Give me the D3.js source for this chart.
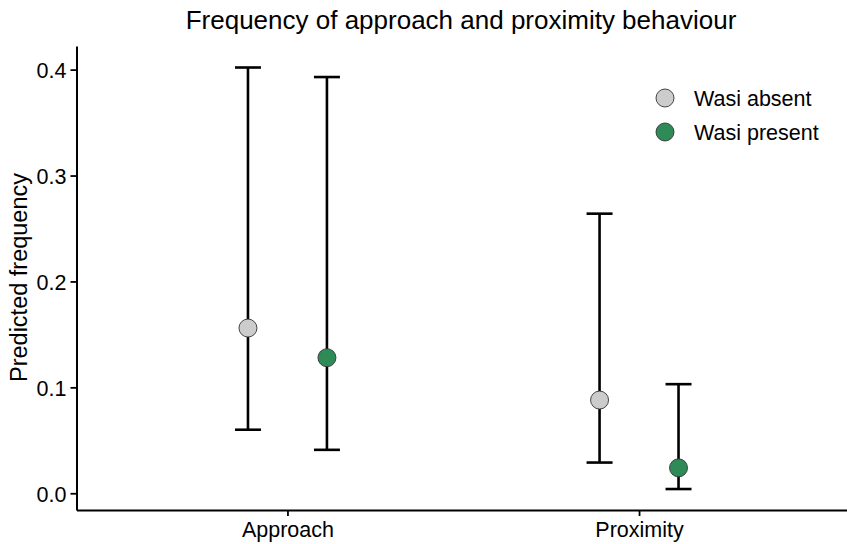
<!DOCTYPE html>
<html>
<head>
<meta charset="utf-8">
<script src="https://cdn.jsdelivr.net/npm/d3@7"></script>
<style>
  body { margin: 0; background: #fff; }
  text { font-family: "Liberation Sans", Arial, sans-serif; fill: #000; }
</style>
</head>
<body>
<svg id="chart" width="847" height="544"></svg>
<script>
"use strict";

// data
const behaviours = ['Approach', 'Proximity'];
const groups = ['Wasi absent', 'Wasi present'];
const groupColors = ['#cccccc', '#2e8b57'];
const estimate = [[0.156, 0.128], [0.088, 0.024]];
const lowerCI = [[0.060, 0.041], [0.029, 0.004]];
const upperCI = [[0.402, 0.393], [0.264, 0.103]];
const yTicks = [0.0, 0.1, 0.2, 0.3, 0.4];

const svg = d3.select('#chart');

// discrete positions 1..n, panel spans 0.4..n+0.6 like ggplot
const x = d3.scaleLinear().domain([0.4, 2.6]).range([76.5, 850]);
const y = d3.scaleLinear().domain([-0.0158, 0.4224]).range([510, 45.9]);
const dodge = 0.1123;

const rows = [];
behaviours.forEach(function(b, i){
    groups.forEach(function(g, j){
        rows.push({
            behaviour: b, group: j,
            pos: i + 1 + (j === 0 ? -dodge : dodge),
            est: estimate[i][j], lo: lowerCI[i][j], hi: upperCI[i][j]
        });
    });
});

// title
svg.append('text')
   .attr('x', 461).attr('y', 29)
   .attr('text-anchor', 'middle')
   .style('font-size', '26px')
   .text('Frequency of approach and proximity behaviour');

// axes
const yAxis = svg.append('g')
   .attr('transform', 'translate(' + x(0.4) + ',0)')
   .call(d3.axisLeft(y).tickValues(yTicks).tickFormat(d3.format('.1f')).tickSize(6).tickSizeOuter(0));
yAxis.select('.domain').attr('stroke', '#000').attr('stroke-width', 2);
yAxis.selectAll('.tick line').attr('stroke', '#000').attr('stroke-width', 1.8);
yAxis.selectAll('.tick text')
     .attr('x', -10).attr('dy', '0.36em')
     .style('font-size', '21.5px');

const xAxis = svg.append('g')
   .attr('transform', 'translate(0,' + y(-0.0158) + ')')
   .call(d3.axisBottom(x).tickValues([1, 2]).tickFormat(function(d){ return behaviours[d - 1]; }).tickSize(6).tickSizeOuter(0));
xAxis.select('.domain').attr('stroke', '#000').attr('stroke-width', 2);
xAxis.selectAll('.tick line').attr('stroke', '#000').attr('stroke-width', 1.8);
xAxis.selectAll('.tick text')
     .attr('y', 12).attr('dy', '0.71em')
     .style('font-size', '21.5px');

svg.append('text')
   .attr('transform', 'translate(27,' + 277.5 + ') rotate(-90)')
   .attr('text-anchor', 'middle')
   .style('font-size', '23.5px')
   .text('Predicted frequency');

// error bars
const bars = svg.append('g').selectAll('g')
   .data(rows).enter().append('g')
   .attr('stroke', '#000').attr('stroke-width', 2.6).attr('fill', 'none');

bars.append('line')
    .attr('x1', function(d){ return x(d.pos); })
    .attr('x2', function(d){ return x(d.pos); })
    .attr('y1', function(d){ return y(d.lo); })
    .attr('y2', function(d){ return y(d.hi); });

[ 'lo', 'hi' ].forEach(function(k){
    bars.append('line')
        .attr('x1', function(d){ return x(d.pos) - 13; })
        .attr('x2', function(d){ return x(d.pos) + 13; })
        .attr('y1', function(d){ return y(d[k]); })
        .attr('y2', function(d){ return y(d[k]); });
});

// points
svg.append('g').selectAll('circle')
   .data(rows).enter().append('circle')
   .attr('cx', function(d){ return x(d.pos); })
   .attr('cy', function(d){ return y(d.est); })
   .attr('r', 9)
   .attr('fill', function(d){ return groupColors[d.group]; })
   .attr('stroke', '#333')
   .attr('stroke-width', 0.9);

// legend
const legend = svg.append('g').selectAll('g')
   .data(groups).enter().append('g')
   .attr('transform', function(d, i){ return 'translate(665,' + (98 + i * 34) + ')'; });

legend.append('circle')
      .attr('r', 9)
      .attr('fill', function(d, i){ return groupColors[i]; })
      .attr('stroke', '#333')
      .attr('stroke-width', 0.9);

legend.append('text')
      .attr('x', 29).attr('dy', '0.36em')
      .style('font-size', '21.5px')
      .text(function(d){ return d; });
</script>
</body>
</html>
